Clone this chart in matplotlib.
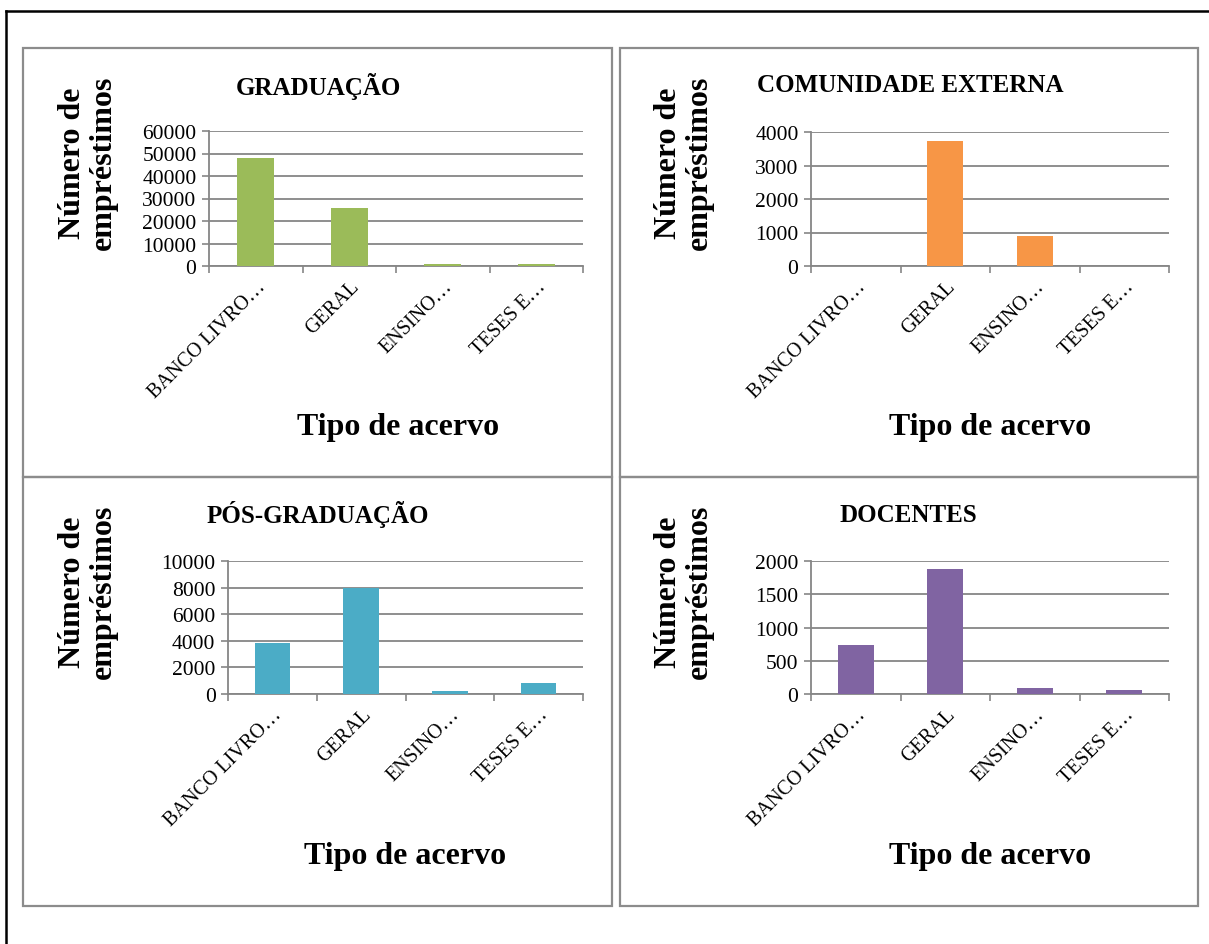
"""Empréstimos por tipo de acervo: four small bar charts in a 2x2 grid."""

import matplotlib
matplotlib.use("Agg")
import matplotlib.pyplot as plt
from matplotlib.patches import Rectangle
from matplotlib.lines import Line2D

W, H = 1209, 945

categorias = ["BANCO LIVRO…", "GERAL", "ENSINO…", "TESES E…"]

graduacao = [47900, 25800, 1000, 750]
comunidade_externa = [0, 3720, 900, 0]
pos_graduacao = [3860, 7970, 200, 850]
docentes = [731, 1884, 84, 60]

titulos = ["GRADUAÇÃO", "COMUNIDADE EXTERNA", "PÓS-GRADUAÇÃO", "DOCENTES"]
ymax = [60000, 4000, 10000, 2000]
ystep = [10000, 1000, 2000, 500]
cores = ["#9BBB59", "#F79646", "#4BACC6", "#8064A2"]
series = [graduacao, comunidade_externa, pos_graduacao, docentes]

GRAY = "#868686"
SERIF = ["Liberation Serif", "DejaVu Serif"]

plt.rcParams["font.family"] = SERIF


def px_rect(x0, y0, x1, y1):
    """pixel box (top-left origin) -> figure fraction [l, b, w, h]"""
    return [x0 / W, 1 - y1 / H, (x1 - x0) / W, (y1 - y0) / H]


fig = plt.figure(figsize=(W / 100, H / 100), dpi=100)

# outer black frame (open at the bottom)
fig.add_artist(Line2D([6 / W, 6 / W], [0, 1 - 12 / H], color="black", lw=1.8,
                      transform=fig.transFigure))
fig.add_artist(Line2D([6 / W, 1], [1 - 12 / H, 1 - 12 / H], color="black", lw=1.8,
                      transform=fig.transFigure))

# panel boxes: (x0, y0, x1, y1)
panels = [(23, 49, 612, 478), (620, 49, 1198, 478),
          (23, 478, 612, 907), (620, 478, 1198, 907)]
# plot areas
areas = [(209, 132, 583, 267), (811, 133, 1169, 267),
         (228, 562, 583, 695), (811, 562, 1169, 695)]
title_pos = [(318, 86), (910, 86), (318, 515), (908, 515)]
ylab_pos = [(88, 163), (684, 163), (88, 592), (684, 592)]
xlab_pos = [(398, 428), (990, 428), (405, 857), (990, 857)]

for (x0, y0, x1, y1) in panels:
    fig.add_artist(Rectangle((x0 / W, 1 - y1 / H), (x1 - x0) / W, (y1 - y0) / H,
                             transform=fig.transFigure, fill=False,
                             edgecolor="#8C8C8C", lw=1.6))

for i in range(4):
    ax = fig.add_axes(px_rect(*areas[i]))
    xs = range(len(categorias))
    ax.bar(xs, series[i], width=0.4, color=cores[i], zorder=3)
    ax.set_xlim(-0.5, len(categorias) - 0.5)
    ax.set_ylim(0, ymax[i])
    ax.set_yticks(range(0, ymax[i] + 1, ystep[i]))
    ax.yaxis.grid(True, color=GRAY, lw=1.3, zorder=0)
    ax.set_xticks(list(xs))
    ax.set_xticklabels(categorias, rotation=45, ha="right", va="top",
                       rotation_mode="anchor", fontsize=14.5)
    ax.set_xticks([k - 0.5 for k in range(len(categorias) + 1)], minor=True)
    ax.tick_params(axis="x", which="major", length=0, pad=8)
    ax.tick_params(axis="x", which="minor", length=5, width=1.2, color=GRAY,
                   direction="out")
    ax.tick_params(axis="y", length=5, width=1.2, color=GRAY, labelsize=15.5, pad=4)
    for s in ("top", "right"):
        ax.spines[s].set_visible(False)
    for s in ("left", "bottom"):
        ax.spines[s].set_color(GRAY)
        ax.spines[s].set_linewidth(1.3)

    tx, ty = title_pos[i]
    fig.text(tx / W, 1 - ty / H, titulos[i], ha="center", va="center",
             fontsize=18, fontweight="bold")
    lx, ly = ylab_pos[i]
    fig.text(lx / W, 1 - ly / H, "Número de\nempréstimos", rotation=90,
             ha="center", va="center", multialignment="center",
             fontsize=23, fontweight="bold", linespacing=1.1)
    bx, by = xlab_pos[i]
    fig.text(bx / W, 1 - by / H, "Tipo de acervo", ha="center", va="center",
             fontsize=23, fontweight="bold")

fig.savefig("out.png", dpi=100, facecolor="white")
